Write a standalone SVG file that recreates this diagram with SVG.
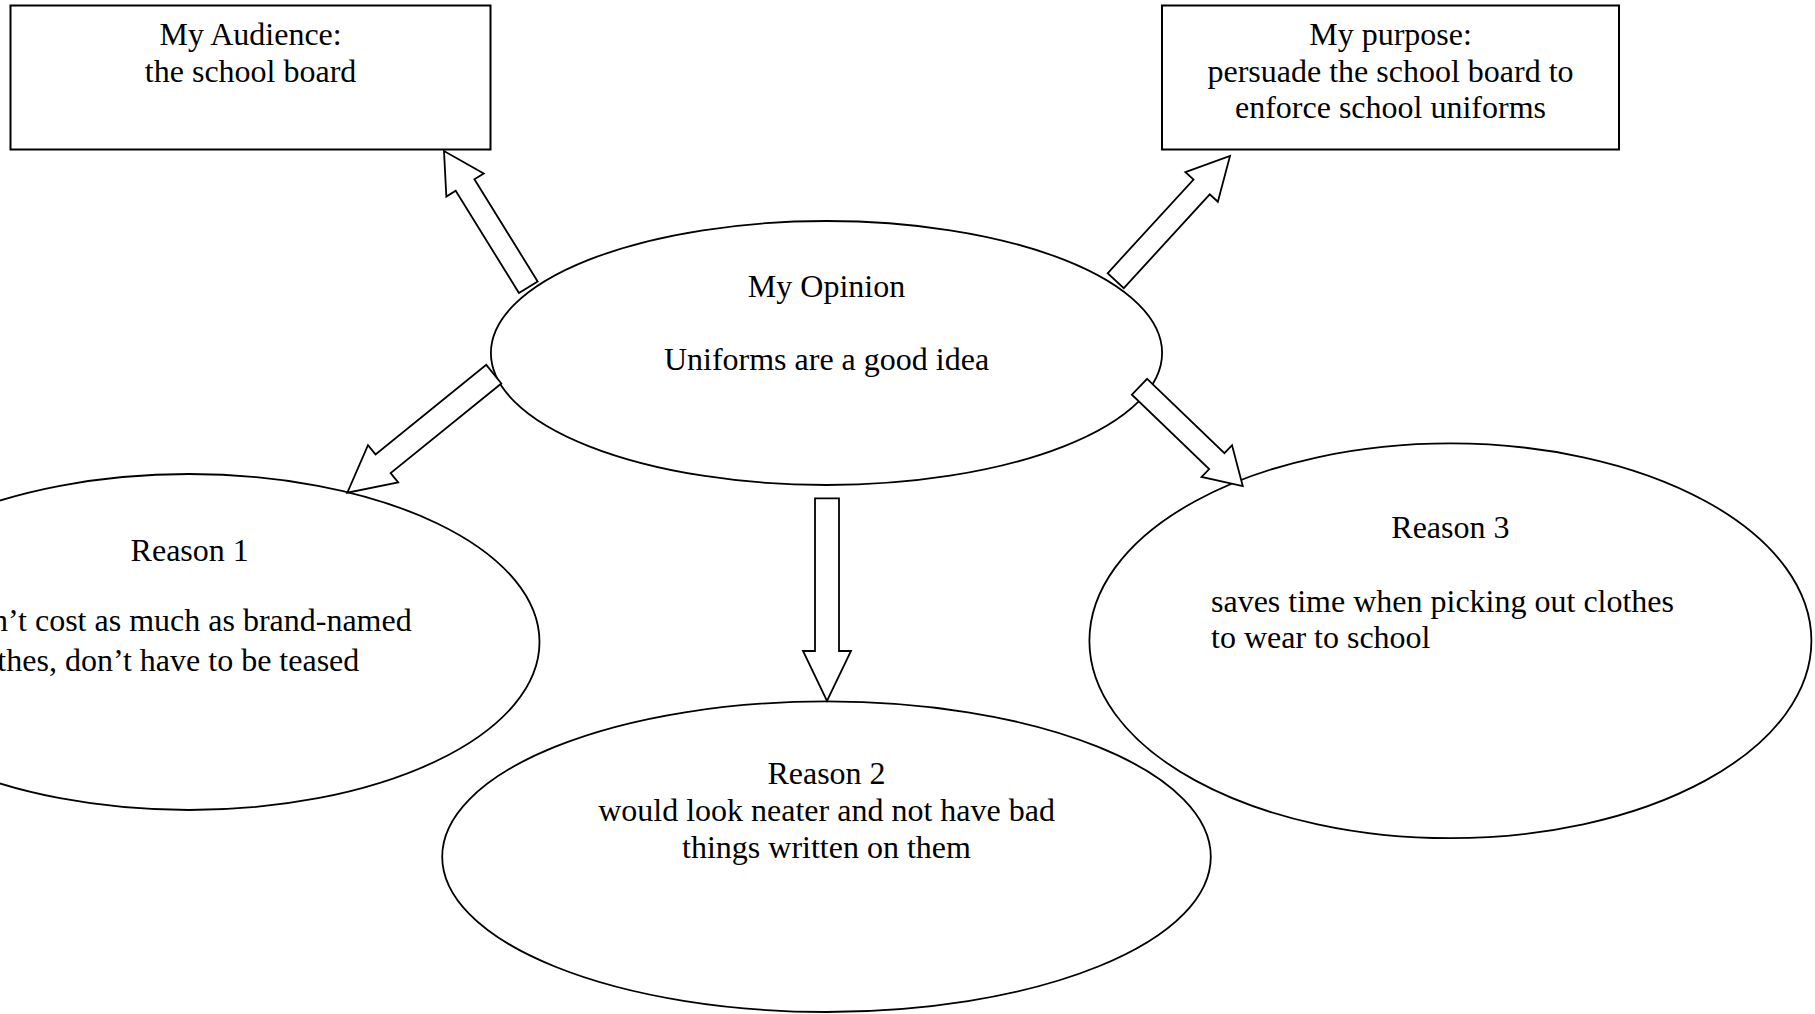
<svg xmlns="http://www.w3.org/2000/svg" width="1815" height="1014" viewBox="0 0 1815 1014">
<style>
  .box { fill: #fff; stroke: #000; stroke-width: 2; }
  .ell { fill: #fff; stroke: #000; stroke-width: 1.8; }
  .arr { fill: #fff; stroke: #000; stroke-width: 1.8; stroke-linejoin: miter; }
  text { font-family: "Liberation Serif", "Times New Roman", serif; font-size: 32px; fill: #000; }
  .c { text-anchor: middle; }
</style>
<rect width="1815" height="1014" fill="#fff"/>
<g id="audience">
  <rect class="box" x="10.5" y="5.5" width="480" height="144"/>
  <text class="c" x="250.6" y="45">My Audience:</text>
  <text class="c" x="250.6" y="82">the school board</text>
</g>
<g id="purpose">
  <rect class="box" x="1162" y="5.5" width="457" height="144"/>
  <text class="c" x="1390.5" y="45">My purpose:</text>
  <text class="c" x="1390.5" y="82">persuade the school board to</text>
  <text class="c" x="1390.5" y="118">enforce school uniforms</text>
</g>
<g id="opinion">
  <ellipse class="ell" cx="826.5" cy="353" rx="335.6" ry="132"/>
  <text class="c" x="826.5" y="296.7">My Opinion</text>
  <text class="c" x="826.5" y="370">Uniforms are a good idea</text>
</g>
<g id="reason1">
  <ellipse class="ell" cx="189" cy="642" rx="350.5" ry="168"/>
  <text class="c" x="189.7" y="561">Reason 1</text>
  <text x="411.7" y="631" text-anchor="end">n’t cost as much as brand-named</text>
  <text x="359.3" y="670.7" text-anchor="end">thes, don’t have to be teased</text>
</g>
<g id="reason2">
  <ellipse class="ell" cx="826.5" cy="856.7" rx="384.3" ry="155.3"/>
  <text class="c" x="826.5" y="783.6">Reason 2</text>
  <text class="c" x="826.5" y="820.7">would look neater and not have bad</text>
  <text class="c" x="826.5" y="857.7">things written on them</text>
</g>
<g id="reason3">
  <ellipse class="ell" cx="1450.4" cy="640.8" rx="361" ry="197.4"/>
  <text class="c" x="1450.4" y="538">Reason 3</text>
  <text x="1211" y="611.7">saves time when picking out clothes</text>
  <text x="1211" y="648.3">to wear to school</text>
</g>
<g id="connectors">
  <polygon class="arr" transform="translate(528.3,287.2) rotate(-121.75)" points="0,-11 120.2,-11 120.2,-22 160.2,0 120.2,22 120.2,11 0,11"/>
  <polygon class="arr" transform="translate(1115.7,280.7) rotate(-47.5)" points="0,-11 127.2,-11 127.2,-22 169.2,0 127.2,22 127.2,11 0,11"/>
  <polygon class="arr" transform="translate(827,498.3) rotate(90)" points="0,-12 152.7,-12 152.7,-24 202.7,0 152.7,24 152.7,12 0,12"/>
  <polygon class="arr" transform="translate(493.8,374.2) rotate(141.03)" points="0,-12 142.4,-12 142.4,-24 188.4,0 142.4,24 142.4,12 0,12"/>
  <polygon class="arr" transform="translate(1139.5,386.8) rotate(43.86)" points="0,-11 107.2,-11 107.2,-22 143.2,0 107.2,22 107.2,11 0,11"/>
</g>
</svg>
